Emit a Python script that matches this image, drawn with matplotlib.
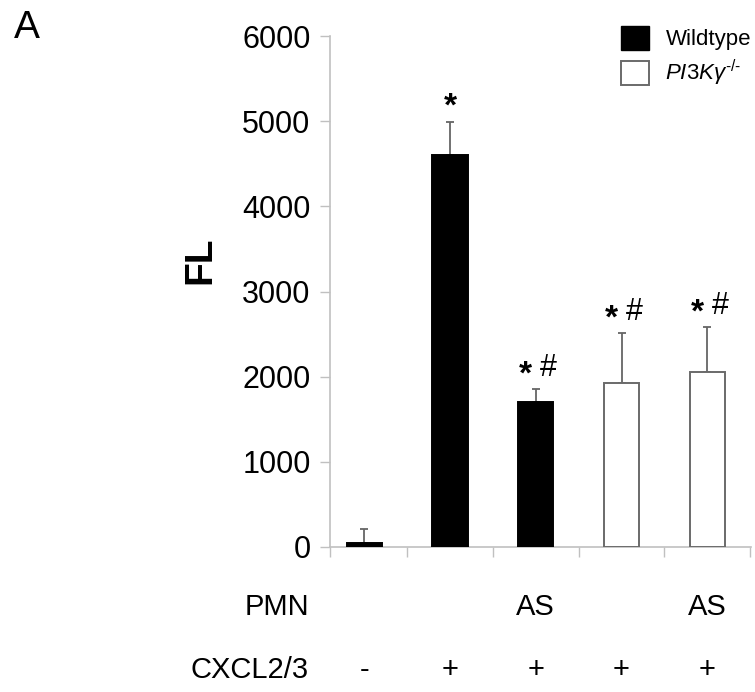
import matplotlib
matplotlib.use('Agg')
import matplotlib.pyplot as plt
import matplotlib.transforms as mtransforms
from matplotlib.patches import Patch

plt.rcParams['font.family'] = ['Liberation Sans', 'DejaVu Sans']
plt.rcParams['mathtext.fontset'] = 'custom'
plt.rcParams['mathtext.rm'] = 'Liberation Sans'
plt.rcParams['mathtext.it'] = 'Liberation Sans:italic'

# data
means = [50, 4600, 1700, 1920, 2060]
errs = [160, 390, 150, 590, 520]
genotype = ['wt', 'wt', 'wt', 'ko', 'ko']
stars = ['', '*', '*', '*', '*']
hashes = ['', '', '#', '#', '#']
pmn_row = ['', '', 'AS', '', 'AS']
cxcl_row = ['-', '+', '+', '+', '+']

fig = plt.figure(figsize=(7.55, 6.92), dpi=100)
ax = fig.add_axes([330 / 755, 145 / 692, 421 / 755, 511 / 692])

x = list(range(len(means)))
face = ['black' if g == 'wt' else 'white' for g in genotype]
edge = ['black' if g == 'wt' else '#6a6a6a' for g in genotype]
ax.bar(x, means, width=0.41, color=face, edgecolor=edge, linewidth=1.4, zorder=3)
ax.errorbar(x, means, yerr=[[0] * len(errs), errs], fmt='none', ecolor='#666666',
            elinewidth=1.3, capsize=3, capthick=1.3, zorder=2)

# significance marks
for xi, m, e, s, h in zip(x, means, errs, stars, hashes):
    dx = -10 if h else 0
    if s:
        ax.annotate(s, (xi, m + e), xytext=(dx, 6), textcoords='offset pixels',
                    ha='center', va='baseline', fontsize=24, fontweight='bold')
    if h:
        ax.annotate(h, (xi, m + e), xytext=(13, 13), textcoords='offset pixels',
                    ha='center', va='baseline', fontsize=22)

ax.set_xlim(-0.40, 4.51)
ax.set_ylim(0, 6000)
ax.set_yticks(range(0, 6001, 1000))
ax.set_xticks([-0.40, 0.5, 1.5, 2.5, 3.5, 4.5])
ax.set_xticklabels([])
ax.tick_params(axis='y', labelsize=22, length=7, width=1, color='#c0c0c0', pad=7)
ax.tick_params(axis='x', length=7, width=1, color='#c0c0c0', direction='out')
for s in ['top', 'right']:
    ax.spines[s].set_visible(False)
for s in ['left', 'bottom']:
    ax.spines[s].set_color('#c0c0c0')
    ax.spines[s].set_linewidth(1.2)

fig.text(200 / 755, 1 - 260 / 692, 'FL', rotation=90, fontsize=28, fontweight='bold',
         ha='center', va='center')
fig.text(14 / 755, 1 - 10 / 692, 'A', fontsize=28, ha='left', va='top')

tr = mtransforms.blended_transform_factory(ax.transData, fig.transFigure)
fig.text(309 / 755, 1 - 607 / 692, 'PMN', fontsize=21, ha='right', va='center')
fig.text(309 / 755, 1 - 670 / 692, 'CXCL2/3', fontsize=21, ha='right', va='center')
for xi, p, c in zip(x, pmn_row, cxcl_row):
    ax.text(xi, 1 - 607 / 692, p, transform=tr, fontsize=21, ha='center', va='center')
    ax.text(xi, 1 - 670 / 692, c, transform=tr, fontsize=21, ha='center', va='center')

handles = [Patch(facecolor='black', edgecolor='black'),
           Patch(facecolor='white', edgecolor='#6a6a6a', linewidth=1.4)]
fig.legend(handles, ['Wildtype', r'$\mathit{PI3K\gamma}^{\text{-/-}}$'], loc='upper left',
           bbox_to_anchor=(621 / 755, 1 - 26 / 692), frameon=False, fontsize=16,
           handlelength=1.25, handleheight=1.25, handletextpad=0.75,
           labelspacing=0.35, borderpad=0, borderaxespad=0)

fig.savefig('out.png', dpi=100)
